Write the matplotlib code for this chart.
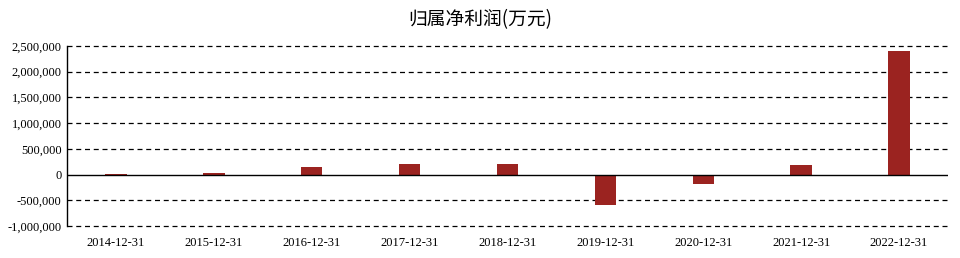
import matplotlib
matplotlib.use('Agg')
import matplotlib.pyplot as plt
from matplotlib.ticker import FuncFormatter

# data (万元)
dates = ['2014-12-31', '2015-12-31', '2016-12-31', '2017-12-31', '2018-12-31',
         '2019-12-31', '2020-12-31', '2021-12-31', '2022-12-31']
profit = [6000, 25000, 150000, 210000, 210000, -595000, -180000, 195000, 2410000]
yticks = [-1000000, -500000, 0, 500000, 1000000, 1500000, 2000000, 2500000]

plt.rcParams['font.family'] = ['Liberation Serif', 'DejaVu Serif']

fig = plt.figure(figsize=(9.6, 2.58), dpi=100)
ax = fig.add_axes([0.0698, 0.124, 0.9177, 0.698])

x = list(range(len(dates)))
ax.bar(x, profit, width=0.22, color='#9B2320', zorder=3)

ax.set_xlim(-0.5, len(dates) - 0.5)
ax.set_ylim(-1000000, 2500000)
ax.set_yticks(yticks)
ax.yaxis.set_major_formatter(FuncFormatter(lambda v, p: f'{int(v):,}'))
ax.set_xticks(x)
ax.set_xticklabels(dates)

# dashed grid lines, solid zero line
for t in yticks:
    if t == 0:
        ax.axhline(0, color='black', lw=1.0, zorder=4)
    else:
        ax.axhline(t, color='black', lw=0.9, ls=(0, (4, 3)), zorder=1, clip_on=False)

for s in ['top', 'right', 'bottom']:
    ax.spines[s].set_visible(False)
ax.spines['left'].set_color('black')
ax.spines['left'].set_linewidth(1.0)

ax.tick_params(axis='both', length=0, labelsize=9, pad=4)
ax.tick_params(axis='x', pad=8)

fig.text(0.5, 0.925, '归属净利润(万元)', ha='center', va='center', fontsize=13.5,
         family=['Noto Sans CJK SC', 'DejaVu Sans'])

fig.savefig('out.png', dpi=100)
